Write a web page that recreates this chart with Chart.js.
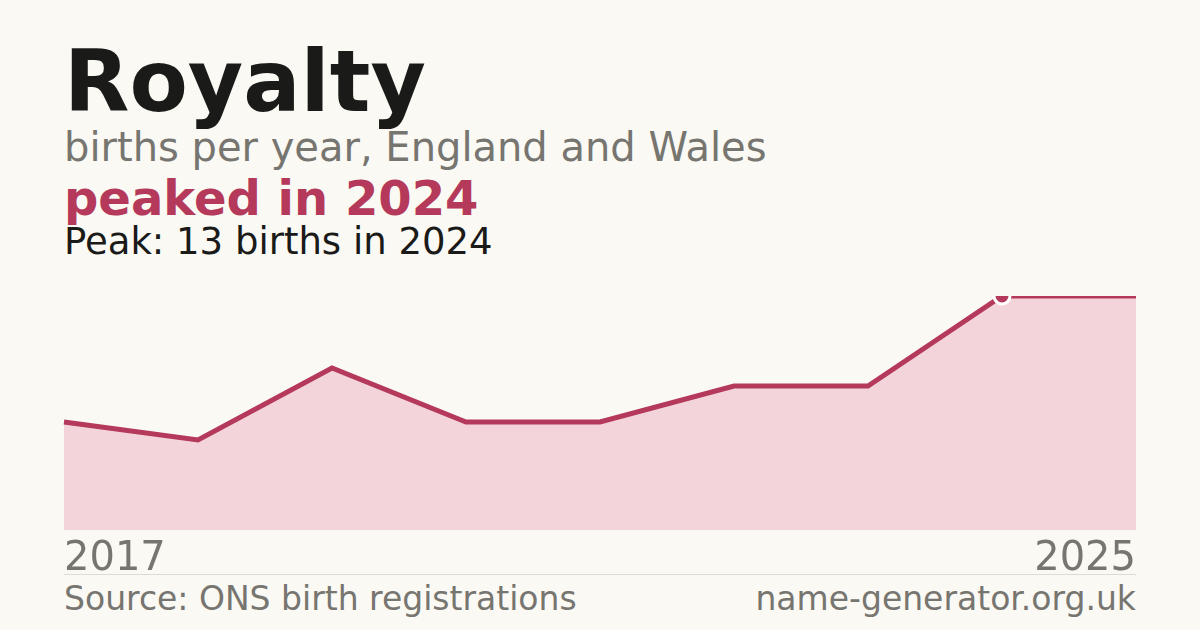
<!DOCTYPE html>
<html><head><meta charset="utf-8">
<script src="https://cdn.jsdelivr.net/npm/chart.js@4"></script>
<style>
body{margin:0;width:1200px;height:630px;background:#faf9f4;font-family:"DejaVu Sans",sans-serif;position:relative;overflow:hidden}
.t{position:absolute;left:64px;white-space:nowrap}
#wrap{position:absolute;left:54px;top:286px;width:1092px;height:254px}
</style></head><body>
<div class="t" style="top:32px;font-size:85px;font-weight:bold;color:#1a1a18">Royalty</div>
<div class="t" style="top:124px;font-size:40px;color:#777570">births per year, England and Wales</div>
<div class="t" style="top:170px;font-size:48px;font-weight:bold;color:#b5395a">peaked in 2024</div>
<div class="t" style="top:220px;font-size:37px;color:#1a1a18">Peak: 13 births in 2024</div>
<div id="wrap"><canvas id="c"></canvas></div>
<div class="t" style="top:533px;font-size:40px;color:#777570">2017</div>
<div class="t" style="top:533px;left:auto;right:64px;font-size:40px;color:#777570">2025</div>
<div style="position:absolute;left:64px;top:574px;width:1072px;height:1px;background:#dddbd4"></div>
<div class="t" style="top:579px;font-size:33px;color:#777570">Source: ONS birth registrations</div>
<div class="t" style="top:579px;left:auto;right:64px;font-size:33px;color:#777570">name-generator.org.uk</div>
<script>
const years=["2017","2018","2019","2020","2021","2022","2023","2024","2025"];
const births=[6,5,9,6,6,8,8,13,13];
const peakIndex=7;
new Chart(document.getElementById('c'),{type:'line',
data:{labels:years,datasets:[{data:births,borderColor:'#b5395a',borderWidth:5,backgroundColor:'#f2d4da',fill:'origin',tension:0,
pointRadius:births.map((v,i)=>i===peakIndex?8:0),pointBackgroundColor:'#b5395a',pointBorderColor:'#ffffff',pointBorderWidth:3}]},
options:{responsive:true,maintainAspectRatio:false,animation:false,layout:{padding:10},
plugins:{legend:{display:false},tooltip:{enabled:false}},
scales:{x:{display:false,offset:false},y:{display:false,min:0,max:13}}}});
</script>
</body></html>
